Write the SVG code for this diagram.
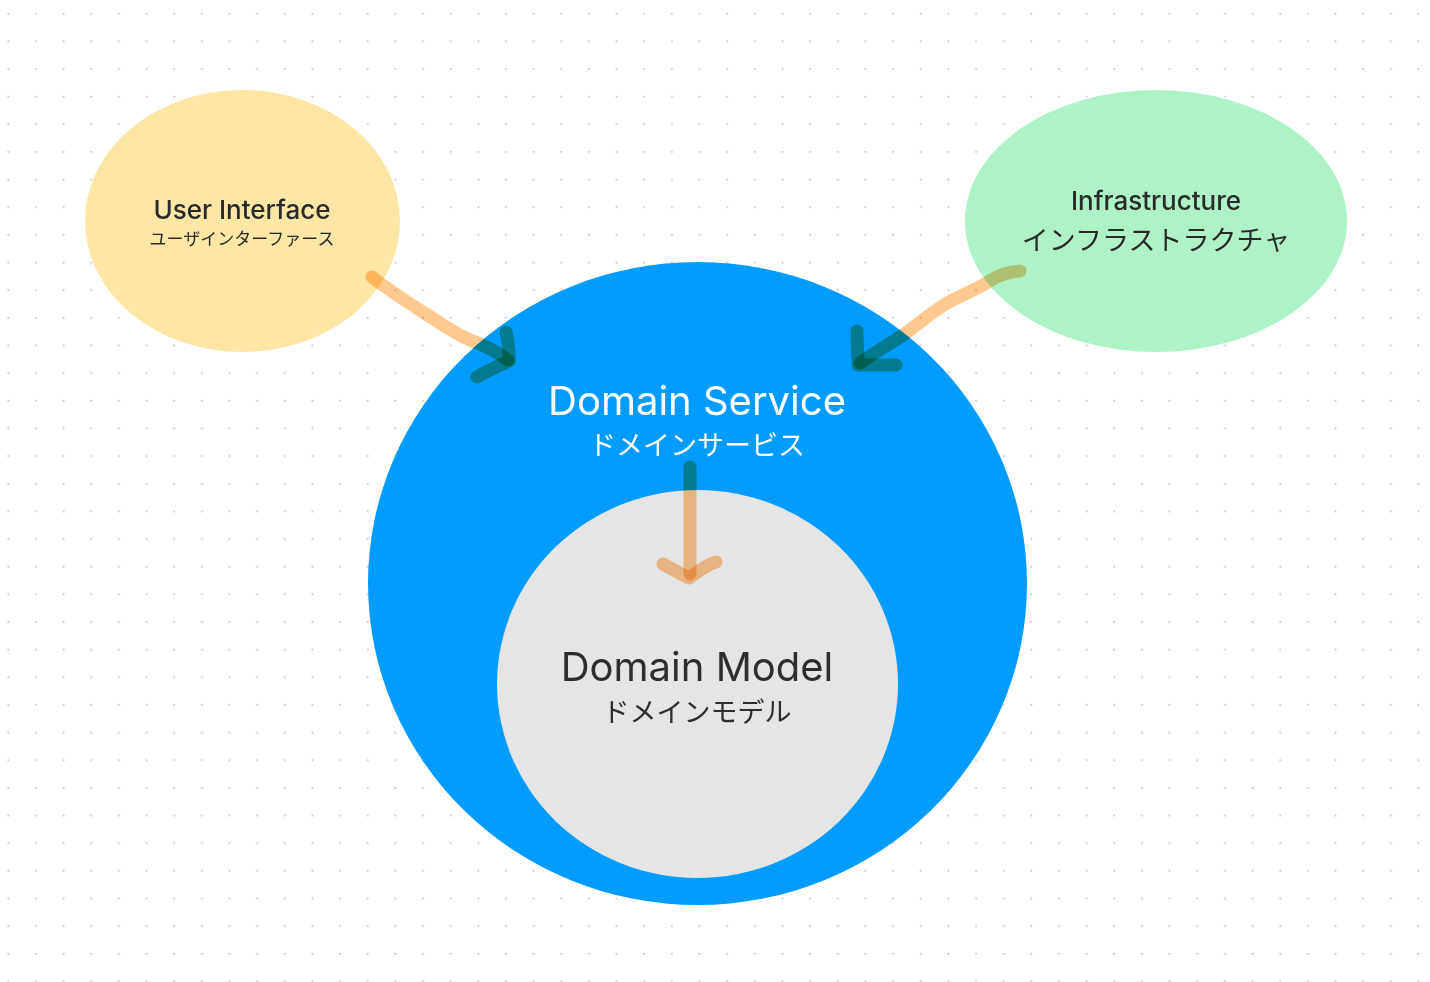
<svg xmlns="http://www.w3.org/2000/svg" width="1430" height="982" viewBox="0 0 1430 982">
<defs>
<pattern id="dots" patternUnits="userSpaceOnUse" x="0" y="0" width="27.65" height="27.65">
<circle cx="8.3" cy="13.7" r="1.1" fill="#c9c9c9"/>
</pattern>
</defs>
<style>
.t{font-family:Inter,"Noto Sans","Noto Sans CJK JP",sans-serif;text-anchor:middle}
.dark{fill:#2a2a2a}
.arr{fill:none;stroke:#ffc98f;stroke-width:13;stroke-linecap:round;stroke-linejoin:round;mix-blend-mode:multiply}
</style>
<rect width="1430" height="982" fill="#ffffff"/>
<rect width="1430" height="982" fill="url(#dots)"/>
<g id="user-interface">
<ellipse cx="242.5" cy="221" rx="157.5" ry="131" fill="#fee6a4"/>
<text class="t dark" x="242" y="219" font-size="26" font-weight="500">User Interface</text>
<text class="t dark" x="242" y="245" font-size="17">ユーザインターファース</text>
</g>
<g id="infrastructure">
<ellipse cx="1156" cy="221" rx="191" ry="131" fill="#adf3c7"/>
<text class="t dark" x="1156" y="210" font-size="26" font-weight="500">Infrastructure</text>
<text class="t dark" x="1156" y="250" font-size="27">インフラストラクチャ</text>
</g>
<g id="domain-service">
<ellipse cx="697.5" cy="583.5" rx="329.5" ry="321.5" fill="#029bff"/>
<text class="t" x="697" y="415" font-size="40" fill="#ffffff">Domain Service</text>
<text class="t" x="697" y="455" font-size="27" fill="#ffffff">ドメインサービス</text>
</g>
<g id="domain-model">
<ellipse cx="697.5" cy="684" rx="200.5" ry="194" fill="#e5e5e5"/>
<text class="t" x="697" y="681" font-size="40" fill="#2d2d2d">Domain Model</text>
<text class="t" x="697" y="722" font-size="27" fill="#2d2d2d">ドメインモデル</text>
</g>
<g id="connectors">
<path class="arr" d="M372,277 C395,295 420,310 440,323 C455,333 468,340 480,344 C492,349 500,354 508,360"/>
<path class="arr" d="M506,332 C508,342 510,352 509,361 C498,366 487,371 477,377"/>
<path class="arr" d="M1020,271 C1005,272 995,277 988,282 C975,290 960,296 947,303 C932,312 918,324 903,335 C888,345 872,354 860,363"/>
<path class="arr" d="M857,331 C857,343 858,355 858,365 C871,365 884,365 896,365"/>
<path class="arr" d="M690,467 L690,574"/>
<path class="arr" d="M663,564 C672,569 681,574 689,578 C697,572 706,565 716,562"/>
</g>
</svg>
